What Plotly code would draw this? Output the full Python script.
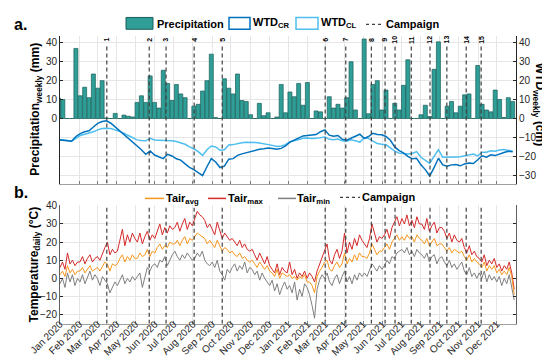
import plotly.graph_objects as go
import pandas as pd

# ---------------- data ----------------
# weekly precipitation (mm), one value per week, first week centred 2019-12-29
precip_mm = [10.8, 10, 0, 0, 37, 12, 16.5, 11, 23.5, 16,
             20, 0.3, 0, 2.7, 0, 1.8, 1.2, 0.8, 8.5, 12,
             8.5, 22.5, 8.5, 5.5, 25.5, 18.5, 9.5, 18, 13, 11,
             0, 6.5, 7.5, 14.5, 20, 34, 0.5, 0, 21, 16,
             13, 23.5, 9.5, 9, 2, 0, 8, 1.5, 3, 0,
             0.8, 18, 3, 14, 11.5, 18.5, 7, 19, 0, 4,
             3.5, 0, 11.5, 5.5, 7.5, 5.5, 11, 30, 4.5, 0,
             42, 2.5, 18, 20, 4.5, 15, 0, 8, 4.5, 17.5,
             31, 0, 0, 2, 7, 1, 26, 40.5, 0, 6.5,
             9, 3, 6.5, 12.5, 13, 0, 28, 7.5, 4.5, 3.5,
             15, 10, 0.5, 11, 9]

# weekly water-table depth (cm)
wtd_cr_cm = [-11.2, -11.5, -11.8, -12.0, -9.5, -8.0, -7.0, -6.5, -4.5, -2.6,
             -1.6, -1.2, -2.5, -4.5, -6.5, -8.5, -10.3, -12.3, -14.3, -16.5,
             -18.9, -17.2, -19.3, -20.3, -21.2, -18.9, -19.8, -21.3, -22.0, -24.0,
             -25.8, -27.0, -28.5, -30.2, -25.5, -21.2, -23.0, -25.9, -25.2, -21.5,
             -21.2, -19.5, -18.7, -18.0, -17.5, -16.8, -16.3, -16.0, -15.6, -15.8,
             -16.2, -15.8, -14.5, -12.5, -11.5, -10.5, -9.2, -9.0, -8.9, -8.5,
             -7.0, -6.0, -8.8, -9.4, -9.0, -11.0, -11.5, -10.3, -9.5, -8.3,
             -10.5, -9.5, -7.8, -8.5, -8.6, -9.5, -11.5, -15.0, -17.0, -18.2,
             -20.0, -21.3, -21.0, -24.5, -27.0, -30.4, -26.0, -21.0, -24.5, -25.2,
             -24.5, -24.3, -25.0, -24.0, -23.5, -23.8, -21.8, -19.7, -20.4, -19.2,
             -19.6, -18.6, -18.0, -17.3, -17.6]
wtd_cl_cm = [-11.2, -11.3, -11.6, -12.0, -10.3, -9.0, -8.3, -7.8, -7.0, -6.0,
             -5.3, -5.1, -5.3, -6.0, -6.7, -7.7, -9.0, -10.3, -11.3, -11.6,
             -11.8, -10.5, -11.4, -11.5, -11.5, -11.8, -11.8, -12.2, -12.8, -13.6,
             -15.0, -16.0, -17.5, -19.5, -16.5, -14.5, -15.0, -16.8, -16.5, -14.0,
             -13.8, -13.2, -12.8, -12.5, -12.5, -12.7, -13.0, -13.3, -13.7, -14.2,
             -14.8, -14.5, -13.8, -12.3, -11.8, -11.0, -10.4, -10.3, -10.6, -10.5,
             -10.2, -9.8, -11.0, -11.2, -10.8, -11.8, -12.0, -11.3, -11.8, -12.5,
             -10.3, -10.5, -12.0, -13.2, -13.6, -13.9, -15.5, -17.2, -18.3, -18.7,
             -18.7, -18.5, -17.5, -20.5, -22.0, -23.7, -20.0, -16.5, -20.5, -20.5,
             -20.6, -20.3, -20.2, -19.6, -19.2, -18.8, -19.8, -17.8, -17.8, -17.0,
             -17.3, -16.6, -16.4, -16.8, -17.3]

campaign_dates = ["2020-03-16", "2020-05-23", "2020-06-19", "2020-08-03", "2020-09-17",
                  "2021-03-01", "2021-04-03", "2021-05-14", "2021-06-05", "2021-06-21",
                  "2021-07-17", "2021-08-16", "2021-09-12", "2021-10-13", "2021-11-06"]
campaign_labels = [str(i) for i in range(1, 16)]

# air temperature (degC), one value every 4 days from 2020-01-01
tair_max = [6, 9, 5, 14, 8, 10, 7, 9,            # Jan 2020
            9, 12, 8, 11, 13, 9, 11,             # Feb
            12, 10, 14, 17, 20, 13, 16, 14,      # Mar
            15, 22, 27, 18, 24, 20, 25, 22,      # Apr
            20, 25, 19, 23, 26, 21, 24,          # May
            22, 26, 30, 24, 28, 25, 29, 27,      # Jun
            28, 31, 26, 30, 33, 27, 31, 29,      # Jul
            33, 37, 35, 34, 32, 28, 30,          # Aug
            27, 24, 31, 26, 22, 25, 23, 21,      # Sep
            22, 20, 18, 21, 17, 19, 16, 15,      # Oct
            16, 13, 10, 14, 11, 8, 12,           # Nov
            7, 5, 3, 8, 2, 6, 4, 3,              # Dec
            9, 2, 5, 0, 3, 1, 4, 0,              # Jan 2021
            3, 1, -2, 4, 8, 12, 16,              # Feb
            19, 10, 8, 13, 16, 11, 15,           # Mar
            25, 14, 20, 16, 22, 18, 24, 21,      # Apr
            19, 17, 22, 30, 25, 20, 23, 22,      # May
            24, 27, 22, 28, 31, 34, 29,          # Jun
            33, 30, 35, 29, 32, 28, 34, 30,      # Jul
            30, 27, 33, 26, 29, 31, 25, 28,      # Aug
            28, 26, 22, 25, 20, 24, 21,          # Sep
            20, 22, 17, 14, 18, 13, 15, 12,      # Oct
            11, 9, 13, 7, 10, 8, 11,             # Nov
            6, 8, 4, 7, 5, 9, 3, -6]             # Dec
tair_avg = [2, 4, 1, 7, 3, 5, 2, 4,
            4, 6, 3, 5, 7, 4, 5,
            6, 4, 7, 9, 8, 4, 8, 7,
            8, 11, 13, 9, 12, 10, 13, 11,
            11, 14, 12, 13, 16, 12, 15,
            14, 17, 19, 16, 18, 17, 20, 19,
            19, 21, 18, 21, 23, 19, 22, 21,
            23, 25, 24, 23, 22, 19, 21,
            19, 17, 21, 18, 15, 17, 16, 14,
            15, 13, 12, 14, 11, 12, 10, 9,
            10, 8, 6, 9, 7, 5, 7,
            4, 3, 1, 5, 0, 3, 2, 1,
            2, 0, 1, -1, 1, 0, 2, -2,
            -2, -4, -8, 1, 4, 6, 9,
            10, 5, 4, 7, 9, 6, 8,
            14, 8, 11, 9, 13, 10, 14, 12,
            12, 11, 14, 19, 16, 13, 15, 15,
            17, 19, 16, 20, 22, 24, 21,
            23, 21, 24, 22, 23, 20, 24, 22,
            21, 19, 22, 18, 20, 22, 18, 19,
            19, 17, 15, 17, 14, 16, 15,
            14, 15, 12, 10, 13, 9, 11, 9,
            8, 6, 9, 4, 7, 5, 7,
            3, 5, 2, 4, 2, 6, 1, -9]
tair_min = [-3, 0, -5, 3, -2, 2, -4, 0,
            -2, 2, -3, 1, 4, -1, 2,
            0, -4, 1, -1, -3, -8, -5, -2,
            -4, -1, 2, -3, 0, -2, 1, -1,
            1, 3, -5, 0, 6, 4, 7,
            8, 6, 10, 9, 12, 7, 10, 13,
            15, 12, 10, 13, 11, 14, 12, 10,
            11, 14, 12, 15, 10, 8, 7,
            9, 6, 10, 4, 2, -1, 5, 3,
            6, 8, 4, 7, 5, 9, 3, 6,
            5, 2, 4, -1, 3, 0, -2,
            -4, -1, -7, -3, -9, -5, -2, -6,
            -4, -8, -2, -12, -6, -10, -3, -5,
            -9, -15, -22, -6, -1, 2, 0,
            3, -2, -4, 0, 2, -3, 1,
            4, -2, 1, -3, 2, -1, 3, 1,
            3, 1, 5, 8, 6, 4, 7, 5,
            7, 10, 8, 12, 11, 14, 15,
            16, 14, 17, 13, 15, 12, 16, 14,
            13, 11, 14, 9, 12, 13, 8, 11,
            12, 9, 7, 10, 6, 8, 5,
            7, 9, 4, 2, 6, 1, 3, 0,
            3, 0, 4, -2, 2, -1, 1,
            -2, 1, -4, 0, -3, 2, -5, -12]

precip_ticks = [0, 10, 20, 30, 40]
wtd_ticks = [-30, -20, -10, 0, 10, 20, 30, 40]
temp_ticks = [-20, -10, 0, 10, 20, 30, 40]

# ---------------- styling ----------------
W, H = 550, 362
L, R = 52, 508
def px(x):
    return (x - L) / (R - L)
def py(y):
    return 1 - y / H

TEAL, TEAL_D = "#2E9E96", "#1B5E5A"
CR, CL = "#0072BD", "#4DBEEE"
C_AVG, C_MAX, C_MIN = "#F7961E", "#D42A2A", "#7F7F7F"
C_CAMP = "#404040"
GRID = "#E6E6E6"
AX = "#262626"
FONT = "Liberation Sans, Arial, sans-serif"

YA = [-34.4, 43.75]
YB = [-25.0, 40.3]
XR = ["2020-01-01", "2021-12-31 20:00"]

week_x = pd.date_range("2019-12-29 12:00", periods=len(precip_mm), freq="7D")
temp_x = pd.date_range("2020-01-01", periods=len(tair_max), freq="4D")

fig = go.Figure()
fig.add_trace(go.Bar(x=week_x, y=precip_mm, width=7 * 86400000 * 0.92,
                     marker=dict(color=TEAL, line=dict(color=TEAL_D, width=0.7)),
                     xaxis="x", yaxis="y", showlegend=False))
fig.add_trace(go.Scatter(x=week_x, y=wtd_cl_cm, mode="lines", line=dict(color=CL, width=1.5),
                         xaxis="x", yaxis="y2", showlegend=False))
fig.add_trace(go.Scatter(x=week_x, y=wtd_cr_cm, mode="lines", line=dict(color=CR, width=1.5),
                         xaxis="x", yaxis="y2", showlegend=False))

cx, cya, cyb = [], [], []
for d in campaign_dates:
    cx += [d, d, None]
    cya += [YA[0], 39.5, None]
    cyb += [YB[0], YB[1], None]
fig.add_trace(go.Scatter(x=cx, y=cya, mode="lines", line=dict(color=C_CAMP, width=1.2, dash="4px,3px"),
                         xaxis="x", yaxis="y2", showlegend=False))

for series, col in [(tair_min, C_MIN), (tair_max, C_MAX), (tair_avg, C_AVG)]:
    fig.add_trace(go.Scatter(x=temp_x, y=series, mode="lines", line=dict(color=col, width=1),
                             xaxis="x2", yaxis="y3", showlegend=False))
fig.add_trace(go.Scatter(x=cx, y=cyb, mode="lines", line=dict(color=C_CAMP, width=1.2, dash="4px,3px"),
                         xaxis="x2", yaxis="y3", showlegend=False))

xcommon = dict(type="date", range=XR, tick0="2020-01-01", dtick="M1", ticks="inside", ticklen=3,
               tickcolor="#808080", showgrid=True, gridcolor=GRID, gridwidth=1,
               showline=True, linecolor="#A0A0A0", linewidth=1, zeroline=False)

fig.update_layout(
    width=W, height=H, autosize=False,
    margin=dict(l=L, r=W - R, t=0, b=0),
    paper_bgcolor="white", plot_bgcolor="white",
    font=dict(family=FONT, size=10, color=AX),
    showlegend=False,
    xaxis=dict(domain=[0, 1], anchor="y", showticklabels=False, **xcommon),
    xaxis2=dict(domain=[0, 1], anchor="y3", tickformat="%b %Y", tickangle=-45,
                ticklabelstandoff=-10, automargin=False,
                tickfont=dict(size=10, color=AX), **xcommon),
    yaxis=dict(domain=[py(173), py(23)], range=YA, tickvals=precip_ticks,
               ticks="inside", ticklen=3, tickcolor=AX, showgrid=False, zeroline=False,
               showline=True, linecolor=AX, linewidth=1, tickfont=dict(size=10, color=AX)),
    yaxis2=dict(overlaying="y", side="right", anchor="x", range=YA, tickvals=wtd_ticks,
                ticks="inside", ticklen=3, tickcolor=AX, showgrid=True, gridcolor=GRID,
                zeroline=False, showline=True, linecolor=AX, linewidth=1,
                tickfont=dict(size=10, color=AX)),
    yaxis3=dict(domain=[py(315), py(195)], anchor="x2", range=YB, tickvals=temp_ticks,
                ticks="inside", ticklen=3, tickcolor=AX, showgrid=True, gridcolor=GRID,
                zeroline=False, showline=True, linecolor="#606060", linewidth=1, mirror="ticks",
                tickfont=dict(size=10, color=AX)),
)

ann = []
def txt(x, y, s, size=11, xanchor="left", yanchor="middle", angle=0, xref="paper"):
    ann.append(dict(x=x, y=y, xref=xref, yref="paper", text=s, showarrow=False,
                    xanchor=xanchor, yanchor=yanchor, textangle=angle,
                    font=dict(family=FONT, size=size, color="black")))

txt(px(4), py(12), "<b>a.</b>", size=16)
txt(px(4), py(182), "<b>b.</b>", size=16)

# axis titles
txt(px(28), py(98), "<b>Precipitation<sub>weekly</sub> (mm)</b>", size=12, xanchor="center", angle=-90)
txt(px(531), py(92), "<b>WTD<sub>weekly</sub> (cm)</b>", size=12, xanchor="center", angle=90)
txt(px(27), py(255), "<b>Temperature<sub>daily</sub> (°C)</b>", size=12, xanchor="center", angle=-90)

# campaign numbers
for d, lab in zip(campaign_dates, campaign_labels):
    ann.append(dict(x=d, y=py(27), xref="x", yref="paper", text="<b>" + lab + "</b>", showarrow=False,
                    xanchor="center", yanchor="middle", textangle=-90,
                    font=dict(family=FONT, size=7, color="black")))

# legends
shapes = []
def rect(x0, x1, y0, y1, fill, line, w=1):
    shapes.append(dict(type="rect", xref="paper", yref="paper", x0=px(x0), x1=px(x1),
                       y0=py(y1), y1=py(y0), fillcolor=fill, line=dict(color=line, width=w)))
def hline(x0, x1, y, color, w=1.5, dash="solid"):
    shapes.append(dict(type="line", xref="paper", yref="paper", x0=px(x0), x1=px(x1),
                       y0=py(y), y1=py(y), line=dict(color=color, width=w, dash=dash)))

rect(118, 145, 4.5, 16.5, TEAL, TEAL_D)
txt(px(147), py(11), "<b>Precipitation</b>")
rect(221, 242, 4.5, 16.5, "white", CR, 1.5)
txt(px(243), py(10), "<b>WTD<sub>CR</sub></b>")
rect(288, 310, 4.5, 16.5, "white", CL, 1.5)
txt(px(311), py(10), "<b>WTD<sub>CL</sub></b>")
hline(358, 376, 11.5, C_CAMP, 1.2, "3px,3px")
txt(px(376), py(11), "<b>Campaign</b>")

hline(137, 156, 188, C_AVG, 1.5)
txt(px(156), py(189), "<b>Tair<sub>avg</sub></b>")
hline(200, 218, 188, C_MAX, 1.5)
txt(px(218), py(189), "<b>Tair<sub>max</sub></b>")
hline(270, 288, 188, C_MIN, 1.5)
txt(px(287), py(189), "<b>Tair<sub>min</sub></b>")
hline(332, 352, 187, C_CAMP, 1.2, "3px,3px")
txt(px(352), py(187), "<b>Campaign</b>")

fig.update_layout(annotations=ann, shapes=shapes)
fig.write_html("out.html")
